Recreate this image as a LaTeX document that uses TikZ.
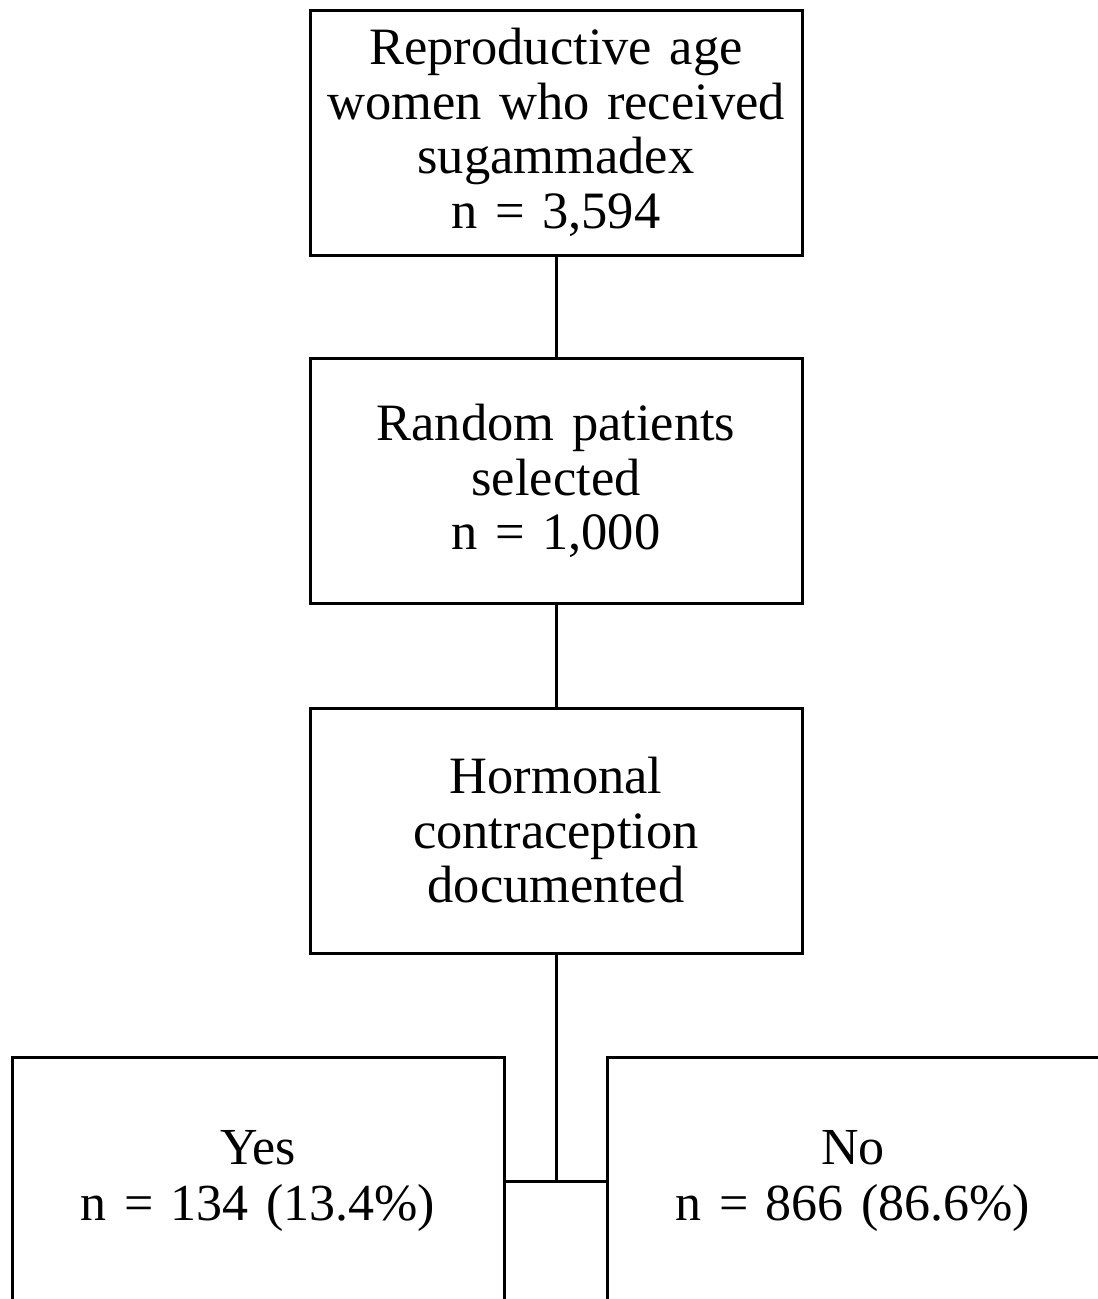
\documentclass[tikz,border=0pt]{standalone}
\usepackage{fontspec}
\setmainfont{Liberation Serif}
\begin{document}
\begin{tikzpicture}[x=1pt,y=-1pt,
  box/.style={draw=black, line width=3pt, rectangle, minimum width=492pt, minimum height=245pt,
    text width=480pt, align=center, inner sep=0pt,
    font=\fontsize{52.5}{54.5}\selectfont},
  link/.style={draw=black, line width=3pt}]
\useasboundingbox (0,0) rectangle (1098,1299);
\clip (0,0) rectangle (1098,1299);
\fill[white] (0,0) rectangle (1098,1299);
\node[box] (b1) at (556,132.5) {Reproductive age\\women who received\\sugammadex\\n = 3,594};
\node[box] (b2) at (556,481) {Random patients\\selected\\n = 1,000};
\node[box] (b3) at (556,830.5) {Hormonal\\contraception\\documented};
\node[box, minimum height=248pt, font=\fontsize{52}{56}\selectfont] (yes) at (258,1181) {\raisebox{-4pt}{Yes}\\\raisebox{-4pt}{n = 134 (13.4\%)}};
\node[box, minimum height=248pt, font=\fontsize{52}{56}\selectfont] (no) at (853,1181) {\raisebox{-4pt}{No}\\\raisebox{-4pt}{n = 866 (86.6\%)}};
\draw[link] (b1.south) -- (b2.north);
\draw[link] (b2.south) -- (b3.north);
\draw[link] (b3.south) -- (b3.south |- yes.east);
\draw[link] (yes.east) -- (no.west);
\end{tikzpicture}
\end{document}
